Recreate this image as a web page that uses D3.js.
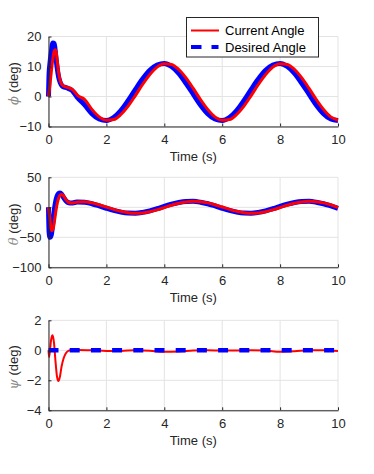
<!DOCTYPE html>
<html><head><meta charset="utf-8">
<script src="https://cdn.jsdelivr.net/npm/d3@7/dist/d3.min.js"></script>
<style>
html,body{margin:0;padding:0;background:#fff;}
svg{display:block;}
text{font-family:"Liberation Sans",Arial,Helvetica,sans-serif;}
</style></head>
<body>
<script>
// ---------- DATA ----------
const timeTicks = [0, 2, 4, 6, 8, 10];
const phiTicks = [-10, 0, 10, 20];
const thetaTicks = [-100, -50, 0, 50];
const psiTicks = [-4, -2, 0, 2];
const legendLabels = ["Current Angle", "Desired Angle"];

// common time grid for phi / theta (s)
const tAtt = [0, 0.02, 0.05, 0.1, 0.15, 0.2, 0.25, 0.3, 0.35, 0.4, 0.45, 0.5, 0.6, 0.7, 0.8, 0.9, 1.0,
  1.25, 1.5, 1.75, 2.0, 2.25, 2.5, 2.75, 3.0, 3.25, 3.5, 3.75, 4.0, 4.25, 4.5, 4.75, 5.0,
  5.25, 5.5, 5.75, 6.0, 6.25, 6.5, 6.75, 7.0, 7.25, 7.5, 7.75, 8.0, 8.25, 8.5, 8.75, 9.0,
  9.25, 9.5, 9.75, 10.0];

const phiDesired = [0, 7.5, 11, 15, 17.8, 17.6, 13.5, 9.5, 6.5, 4.8, 3.8, 3.3, 3.0, 2.6, 2.1, 1.0, -0.3,
  -2.8, -5.7, -7.5, -8.0, -7.0, -4.7, -1.4, 2.3, 5.8, 8.7, 10.5, 11.0, 10.0, 7.7, 4.4, 0.8,
  -2.8, -5.7, -7.5, -8.0, -7.0, -4.7, -1.4, 2.3, 5.8, 8.7, 10.5, 11.0, 10.0, 7.7, 4.4, 0.8,
  -2.8, -5.7, -7.5, -8.0];
const phiCurrent = [0, 1.5, 4, 8.5, 12.5, 15.3, 15.6, 12, 8, 5.5, 4.2, 3.6, 3.2, 2.9, 2.5, 1.6, 0.4,
  -1.0, -4.3, -6.8, -7.9, -7.7, -6.0, -3.2, 0.3, 4.0, 7.3, 9.8, 10.9, 10.7, 9.0, 6.2, 2.7,
  -1.0, -4.3, -6.8, -7.9, -7.7, -6.0, -3.2, 0.3, 4.0, 7.3, 9.8, 10.9, 10.7, 9.0, 6.2, 2.7,
  -1.0, -4.3, -6.8, -7.9];

const thetaDesired = [0, -40, -50, -45, -25, -5, 10, 19, 23, 24, 22, 18, 11, 7.5, 7, 8, 9,
  8.5, 5.9, 2.3, -1.6, -5.2, -8.1, -9.7, -9.9, -8.5, -5.9, -2.3, 1.6, 5.2, 8.1, 9.7, 9.9,
  8.5, 5.9, 2.3, -1.6, -5.2, -8.1, -9.7, -9.9, -8.5, -5.9, -2.3, 1.6, 5.2, 8.1, 9.7, 9.9,
  8.5, 5.9, 2.3, -1.6];
const thetaCurrent = [0, -8, -20, -39, -37, -25, -8, 6, 15, 20, 21.5, 20.5, 13, 8, 7, 7.8, 8.8,
  9.4, 7.4, 4.3, 0.5, -3.4, -6.7, -9.0, -10.0, -9.4, -7.4, -4.3, -0.5, 3.4, 6.7, 9.0, 10.0,
  9.4, 7.4, 4.3, 0.5, -3.4, -6.7, -9.0, -10.0, -9.4, -7.4, -4.3, -0.5, 3.4, 6.7, 9.0, 10.0,
  9.4, 7.4, 4.3, -0.5];

// psi time grid (s)
const tPsi = [0, 0.02, 0.05, 0.09, 0.14, 0.19, 0.24, 0.29, 0.34, 0.39, 0.45, 0.52, 0.6, 0.7, 0.8, 1.0,
  1.5, 2.0, 2.5, 3.0, 3.5, 4.0, 4.5, 5.0, 5.5, 6.0, 6.5, 7.0, 7.5, 8.0, 8.5, 9.0, 9.5, 10.0];
const psiCurrent = [0, -0.45, 0.0, 0.7, 1.0, 0.5, -0.7, -1.7, -2.05, -1.8, -1.1, -0.55, -0.2, -0.02, 0.02, 0.02,
  0.0, -0.04, -0.04, 0.0, -0.03, -0.1, -0.08, -0.02, 0.0, -0.02, -0.02, 0.0, -0.02, -0.1, -0.07, 0.0, 0.0, -0.05];
const psiDesired = [0, 0, 0, 0, 0, 0, 0, 0, 0, 0, 0, 0, 0, 0, 0, 0,
  0, 0, 0, 0, 0, 0, 0, 0, 0, 0, 0, 0, 0, 0, 0, 0, 0, 0];

// ---------- LAYOUT ----------
const W = 374, H = 474;
const left = 48.5, right = 338, axH = 90;
const panels = [
  {top: 36.5, t: tAtt, cur: phiCurrent, des: phiDesired, dom: [-10, 20], ticks: phiTicks, sym: "ϕ", dashed: false},
  {top: 177.3, t: tAtt, cur: thetaCurrent, des: thetaDesired, dom: [-100, 50], ticks: thetaTicks, sym: "θ", dashed: false},
  {top: 320.3, t: tPsi, cur: psiCurrent, des: psiDesired, dom: [-4, 2], ticks: psiTicks, sym: "ψ", dashed: true}
];
const red = "#ff0000", blue = "#0000ff", ink = "#262626";

const svg = d3.select("body").append("svg").attr("width", W).attr("height", H);

panels.forEach(p => {
  const x = d3.scaleLinear().domain([0, 10]).range([left, right]);
  const y = d3.scaleLinear().domain(p.dom).range([p.top + axH, p.top]);
  const g = svg.append("g");

  // grid
  g.append("g").selectAll("line").data(timeTicks).join("line")
    .attr("x1", d => x(d)).attr("x2", d => x(d))
    .attr("y1", y.range()[0]).attr("y2", y.range()[1])
    .attr("stroke", "#e3e3e3").attr("stroke-width", 1);
  g.append("g").selectAll("line").data(p.ticks).join("line")
    .attr("x1", left).attr("x2", right)
    .attr("y1", d => y(d)).attr("y2", d => y(d))
    .attr("stroke", "#e3e3e3").attr("stroke-width", 1);

  const line = d3.line().x((d, i) => x(p.t[i])).y(d => y(d)).curve(d3.curveMonotoneX);
  if (p.dashed) {
    g.append("path").datum(p.cur).attr("d", line)
      .attr("fill", "none").attr("stroke", red).attr("stroke-width", 2).attr("stroke-linejoin", "round");
    g.append("path").datum(p.des).attr("d", line)
      .attr("fill", "none").attr("stroke", blue).attr("stroke-width", 4.5)
      .attr("stroke-dasharray", "10,11.2");
  } else {
    g.append("path").datum(p.des).attr("d", line)
      .attr("fill", "none").attr("stroke", blue).attr("stroke-width", 5).attr("stroke-linejoin", "round");
    g.append("path").datum(p.cur).attr("d", line)
      .attr("fill", "none").attr("stroke", red).attr("stroke-width", 3).attr("stroke-linejoin", "round");
  }

  // axes
  const ax = g.append("g").attr("transform", `translate(0,${p.top + axH})`)
    .call(d3.axisBottom(x).tickValues(timeTicks).tickFormat(d3.format("d"))
      .tickSizeInner(-3).tickSizeOuter(0).tickPadding(8));
  const ay = g.append("g").attr("transform", `translate(${left},0)`)
    .call(d3.axisLeft(y).tickValues(p.ticks).tickFormat(d3.format("d"))
      .tickSizeInner(-3).tickSizeOuter(0).tickPadding(7));
  [ax, ay].forEach(a => {
    a.select(".domain").attr("stroke", ink).attr("stroke-width", 1);
    a.selectAll(".tick line").attr("stroke", ink);
    a.selectAll(".tick text").attr("fill", ink).style("font-size", "13px")
      .style("font-family", '"Liberation Sans",Arial,sans-serif');
  });

  // x label
  g.append("text").attr("x", (left + right) / 2).attr("y", p.top + axH + 34.5)
    .attr("text-anchor", "middle").attr("fill", ink).style("font-size", "13px")
    .text("Time (s)");
  // y label
  const yl = g.append("text")
    .attr("transform", `translate(18,${p.top + axH / 2 + 2}) rotate(-90)`)
    .attr("text-anchor", "middle").style("font-size", "13px");
  yl.append("tspan").attr("fill", "#8a8a8a").style("font-style", "italic")
    .style("font-family", '"DejaVu Serif",serif').text(p.sym);
  yl.append("tspan").attr("fill", ink).text(" (deg)");
});

// legend
const lg = svg.append("g");
lg.append("rect").attr("x", 186.5).attr("y", 17.5).attr("width", 132).attr("height", 39.5)
  .attr("fill", "#fff").attr("stroke", ink).attr("stroke-width", 1);
lg.append("line").attr("x1", 191).attr("x2", 219).attr("y1", 30.5).attr("y2", 30.5)
  .attr("stroke", red).attr("stroke-width", 2);
lg.append("line").attr("x1", 191).attr("x2", 218.5).attr("y1", 47).attr("y2", 47)
  .attr("stroke", blue).attr("stroke-width", 4).attr("stroke-dasharray", "10.5,10");
lg.selectAll("text.lab").data(legendLabels).join("text").attr("class", "lab")
  .attr("x", 225).attr("y", (d, i) => 35 + i * 16.5)
  .attr("fill", "#000").style("font-size", "13px").text(d => d);
</script>
</body></html>
